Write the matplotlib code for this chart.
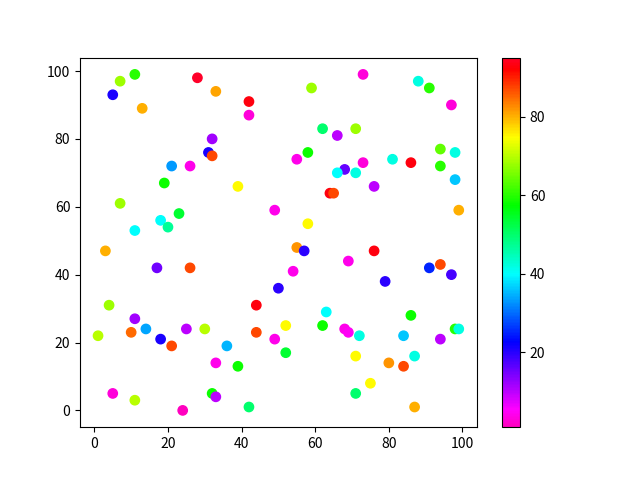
import matplotlib
matplotlib.use('Agg')
import matplotlib.pyplot as plt

plt.rcParams['font.family'] = ['Noto Sans CJK SC', 'DejaVu Sans']

# scatter data
x = [5, 7, 11, 13, 28, 33, 32, 31, 32, 21, 26, 19,
     42, 42, 59, 62, 66, 71, 58, 55, 68, 66, 71, 73, 76,
     73, 88, 91, 97, 81, 86, 94, 98, 94, 98,
     39, 49, 64, 65, 7, 23, 11, 18, 20, 99,
     3, 17, 26, 55, 57, 58, 54, 69, 76, 50, 44,
     4, 11, 10, 14, 18, 21, 25, 30, 1, 36, 33, 39, 44,
     52, 49, 52, 62, 63, 68, 69, 72, 71, 75, 71,
     5, 11, 24, 32, 33, 42, 80, 84, 84, 87, 86,
     94, 91, 97, 79, 94, 98, 99, 87]
y = [93, 97, 99, 89, 98, 94, 80, 76, 75, 72, 72, 67,
     91, 87, 95, 83, 81, 83, 76, 74, 71, 70, 70, 73, 66,
     99, 97, 95, 90, 74, 73, 77, 76, 72, 68,
     66, 59, 64, 64, 61, 58, 53, 56, 54, 59,
     47, 42, 42, 48, 47, 55, 41, 44, 47, 36, 31,
     31, 27, 23, 24, 21, 19, 24, 24, 22, 19, 14, 13, 23,
     25, 21, 17, 25, 29, 24, 23, 22, 16, 8, 5,
     5, 3, 0, 5, 4, 1, 14, 13, 22, 16, 28,
     43, 42, 40, 38, 21, 24, 24, 1]
c = [21, 68, 60, 80, 95, 81, 12, 21, 87, 33, 4, 58,
     93, 3, 68, 50, 10, 68, 58, 4, 16, 40, 42, 3, 10,
     3, 42, 60, 3, 42, 93, 64, 42, 60, 36,
     75, 4, 93, 87, 68, 54, 40, 40, 47, 80,
     80, 15, 87, 82, 20, 75, 4, 4, 93, 20, 93,
     68, 12, 85, 34, 21, 87, 10, 70, 70, 35, 4, 58, 87,
     75, 4, 54, 58, 40, 4, 5, 42, 75, 75, 50,
     3, 70, 1, 58, 10, 50, 82, 87, 36, 42, 58,
     87, 25, 18, 20, 10, 60, 42, 80]

fig, ax = plt.subplots()
sc = ax.scatter(x, y, c=c, cmap='gist_rainbow_r', s=45)
fig.colorbar(sc)
plt.savefig('out.png')
